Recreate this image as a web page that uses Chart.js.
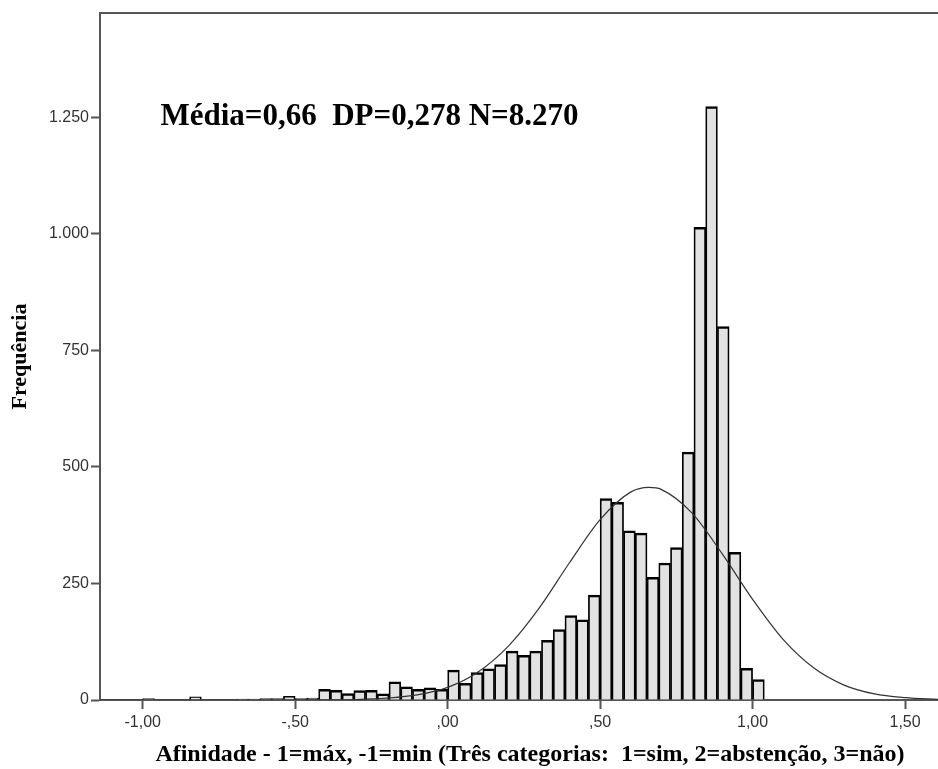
<!DOCTYPE html>
<html><head><meta charset="utf-8">
<script src="https://cdn.jsdelivr.net/npm/chart.js@4.4.1/dist/chart.umd.min.js"></script>
<style>html,body{margin:0;padding:0;background:#fff}#wrap{width:938px;height:769px;position:relative}</style>
</head><body><div id="wrap"><canvas id="c" width="938" height="769"></canvas></div>
<script>
// Histogram bins: first bin starts at -1, each bin is 1/26 wide
const binStart = -1.0;
const binWidth = 1 / 26;
const frequencies = [
  3, 0, 0, 0, 7, 0, 0, 0, 2, 2, 3, 3, 8, 3, 4,
  23, 21, 14, 20, 21, 13, 39, 28, 23, 26, 23,
  64, 36, 59, 67, 76, 105, 96, 105, 128, 151, 181, 172, 225,
  432, 424, 363, 358, 263, 294, 327, 532, 1014, 1273, 801, 317, 68, 44
];
// Normal curve points
const curveX = [-1.14, -0.6, -0.4, -0.3, -0.2, -0.1, 0.0, 0.1, 0.2, 0.3, 0.4, 0.5, 0.6, 0.66, 0.7, 0.8, 0.9, 1.0, 1.1, 1.2, 1.3, 1.4, 1.5, 1.608];
const curveY = [0, 0, 0.3, 1, 4, 11, 27, 60, 116, 197, 295, 387, 446, 456, 452, 402, 314, 216, 130, 69, 32, 13, 5, 1.3];

const xTicks = [-1, -0.5, 0, 0.5, 1, 1.5];
const xTickLabels = ['-1,00', '-,50', ',00', ',50', '1,00', '1,50'];
const yTicks = [0, 250, 500, 750, 1000, 1250];
const yTickLabels = ['0', '250', '500', '750', '1.000', '1.250'];

const statsText = 'Média=0,66  DP=0,278 N=8.270';
const xTitle = 'Afinidade - 1=máx, -1=min (Três categorias:  1=sim, 2=abstenção, 3=não)';
const yTitle = 'Frequência';

const X_MIN = -1.14, X_MAX = 1.608, Y_MAX = 1474;
const AXIS_COLOR = '#555';
const TICK_FONT = { family: '"Liberation Sans", Arial, sans-serif', size: 16 };
const SERIF = '"Liberation Serif", "Times New Roman", serif';

const barData = frequencies.map((f, i) => ({ x: binStart + (i + 0.5) * binWidth, y: f }));
const curveData = curveX.map((x, i) => ({ x: x, y: curveY[i] }));

const textPlugin = {
  id: 'texts',
  afterDraw(chart) {
    const { ctx, scales } = chart;
    ctx.save();
    ctx.fillStyle = '#000';
    ctx.textBaseline = 'middle';
    ctx.textAlign = 'left';
    ctx.font = 'bold 31px ' + SERIF;
    ctx.fillText(statsText, scales.x.getPixelForValue(-0.942), scales.y.getPixelForValue(1250));
    ctx.font = 'bold 24px ' + SERIF;
    ctx.textAlign = 'center';
    ctx.fillText(xTitle, scales.x.getPixelForValue(0.27), scales.x.bottom - 14);
    ctx.restore();
  }
};

new Chart(document.getElementById('c'), {
  type: 'bar',
  data: {
    datasets: [
      {
        type: 'line',
        data: curveData,
        borderColor: '#333',
        borderWidth: 1.2,
        pointRadius: 0,
        cubicInterpolationMode: 'monotone',
        fill: false,
        order: 0,
        xAxisID: 'x',
        yAxisID: 'y'
      },
      {
        type: 'bar',
        data: barData,
        backgroundColor: '#e2e2e2',
        borderColor: '#000',
        borderWidth: { top: 2.5, left: 1.75, right: 1.75, bottom: 0 },
        borderSkipped: false,
        barPercentage: 1.0,
        categoryPercentage: 1.0,
        order: 1,
        xAxisID: 'x',
        yAxisID: 'y'
      }
    ]
  },
  options: {
    responsive: false,
    animation: false,
    devicePixelRatio: 1,
    layout: { padding: { top: 13, left: 0, right: 0, bottom: 0 } },
    plugins: { legend: { display: false }, tooltip: { enabled: false }, title: { display: false } },
    scales: {
      x: {
        type: 'linear',
        position: 'bottom',
        min: X_MIN, max: X_MAX,
        offset: false,
        afterBuildTicks: (s) => { s.ticks = xTicks.map(v => ({ value: v })); },
        afterFit: (s) => { s.height = 69; },
        grid: { display: true, offset: false, drawOnChartArea: false, drawTicks: true, tickLength: 9, tickWidth: 2, tickColor: AXIS_COLOR, color: AXIS_COLOR },
        border: { display: true, color: AXIS_COLOR, width: 2 },
        ticks: {
          autoSkip: false, maxRotation: 0, minRotation: 0,
          color: '#333', font: TICK_FONT, padding: 4,
          callback: (v, i) => xTickLabels[i]
        },
        title: { display: false }
      },
      x2: {
        type: 'linear',
        position: 'top',
        min: X_MIN, max: X_MAX,
        afterFit: (s) => { s.height = 0; },
        grid: { display: false, drawTicks: false },
        border: { display: true, color: AXIS_COLOR, width: 2 },
        ticks: { display: false }
      },
      y: {
        type: 'linear',
        position: 'left',
        min: 0, max: Y_MAX,
        afterBuildTicks: (s) => { s.ticks = yTicks.map(v => ({ value: v })); },
        afterFit: (s) => { s.width = 100; },
        grid: { display: true, drawOnChartArea: false, drawTicks: true, tickLength: 9, tickWidth: 2, tickColor: AXIS_COLOR, color: AXIS_COLOR },
        border: { display: true, color: AXIS_COLOR, width: 2 },
        ticks: {
          color: '#333', font: TICK_FONT, padding: 2,
          callback: (v, i) => yTickLabels[i]
        },
        title: { display: true, text: yTitle, color: '#000', font: { family: SERIF, size: 22, weight: 'bold' }, padding: { top: 7, bottom: 0 } }
      }
    }
  },
  plugins: [textPlugin]
});
</script>
</body></html>
